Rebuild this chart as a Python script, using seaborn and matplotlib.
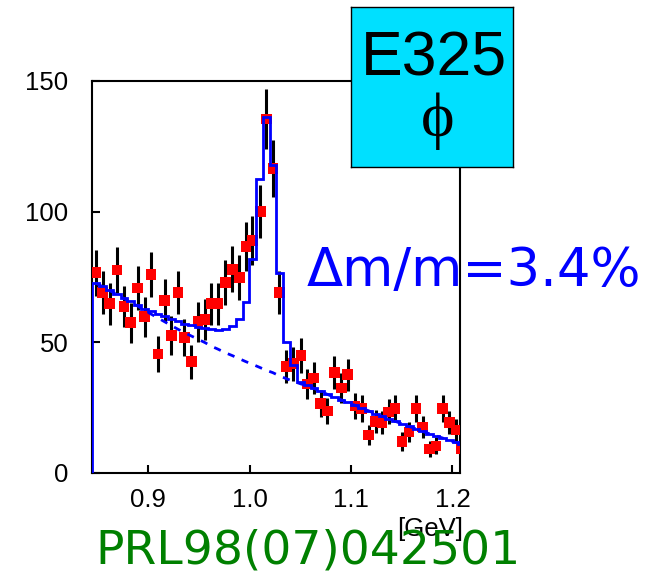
import numpy as np
import matplotlib
matplotlib.use("Agg")
import matplotlib.pyplot as plt
import seaborn as sns

# ---- data ----
mass = [0.8481, 0.8550, 0.8619, 0.8693, 0.8762, 0.8826, 0.8895, 0.8963, 0.9028, 0.9096,
        0.9160, 0.9228, 0.9293, 0.9357, 0.9426, 0.9490, 0.9559, 0.9623, 0.9687, 0.9761,
        0.9830, 0.9899, 0.9963, 1.0027, 1.0105, 1.0164, 1.0228, 1.0292, 1.0361, 1.0430,
        1.0504, 1.0568, 1.0632, 1.0701, 1.0765, 1.0834, 1.0903, 1.0967, 1.1040, 1.1104,
        1.1173, 1.1242, 1.1306, 1.1370, 1.1434, 1.1503, 1.1572, 1.1641, 1.1705, 1.1774,
        1.1838, 1.1902, 1.1970, 1.2034, 1.2083]

counts = [76.7, 69.0, 64.8, 77.7, 63.7, 57.5, 70.8, 59.8, 75.9, 45.6,
          66.0, 52.6, 69.0, 51.8, 42.6, 57.9, 58.7, 64.8, 64.8, 72.9,
          77.9, 74.8, 86.7, 89.0, 100.1, 135.4, 116.6, 69.0, 40.7, 41.8,
          44.9, 34.1, 36.4, 26.5, 23.8, 38.4, 32.6, 37.6, 25.7, 24.7,
          14.6, 19.6, 19.2, 23.4, 24.7, 12.1, 15.7, 24.7, 17.6, 9.2,
          10.4, 24.7, 19.4, 16.5, 9.2]

errors = [8.8, 8.3, 8.0, 8.8, 8.0, 7.6, 8.4, 7.7, 8.7, 6.8,
          8.1, 7.3, 8.3, 7.2, 6.5, 7.6, 7.7, 8.0, 8.0, 8.5,
          8.8, 8.7, 9.3, 9.4, 10.0, 11.6, 10.8, 8.3, 6.4, 6.5,
          6.7, 5.8, 6.0, 5.2, 4.9, 6.2, 5.7, 6.1, 5.1, 5.0,
          3.8, 4.4, 4.4, 4.8, 5.0, 3.5, 4.0, 5.0, 4.2, 3.0,
          3.2, 5.0, 4.4, 4.1, 3.0]

fit_bkg = [72.7, 71.3, 69.8, 68.3, 66.7, 65.4, 63.9, 62.3, 60.8, 59.3,
           57.9, 56.4, 55.0, 53.7, 52.4, 51.2, 49.9, 48.5, 47.4, 46.0,
           44.9, 43.7, 42.6, 41.6, 40.3, 39.3, 38.4, 37.2, 36.1, 35.1,
           34.1, 33.4, 32.4, 31.3, 30.1, 29.0, 28.0, 27.0, 25.9, 24.9,
           23.8, 22.6, 21.7, 20.7, 19.8, 18.8, 17.8, 16.9, 15.9, 15.0,
           14.2, 13.4, 12.5, 11.7, 11.1]

fit_total = [72.7, 71.5, 70.2, 68.5, 67.0, 66.0, 64.3, 62.8, 61.8, 61.0,
             60.1, 59.0, 58.0, 57.2, 56.6, 56.0, 55.3, 55.0, 54.9, 55.0,
             56.3, 59.1, 65.3, 82.0, 112.5, 136.3, 117.8, 76.4, 50.2, 41.3,
             35.0, 33.6, 32.5, 31.4, 30.2, 29.1, 28.1, 27.1, 26.0, 25.0,
             23.9, 22.7, 21.8, 20.8, 19.9, 18.9, 17.9, 17.0, 16.0, 15.1,
             14.3, 13.5, 12.6, 11.8, 11.2]

xticks = [0.9, 1.0, 1.1, 1.2]
xticklabels = ["0.9", "1.0", "1.1", "1.2"]
yticks = [0, 50, 100, 150]
yticklabels = ["0", "50", "100", "150"]

# ---- style ----
sns.set_style("ticks")
plt.rcParams['font.family'] = ['Liberation Sans', 'DejaVu Sans']

fig = plt.figure(figsize=(6.56, 5.74), dpi=100)
ax = fig.add_axes([92 / 656, 1 - 473 / 574, 368 / 656, 392 / 574])

m = np.array(mass)
mids = (m[:-1] + m[1:]) / 2
edges = np.concatenate([[m[0] - (m[1] - m[0]) / 2], mids, [m[-1] + (m[-1] - m[-2]) / 2]])

ax.errorbar(mass, counts, yerr=errors, fmt='none', ecolor='black',
            elinewidth=2.2, capsize=0, zorder=2)
sns.scatterplot(x=mass, y=counts, marker='s', s=58, color='red',
                edgecolor='none', linewidth=0, ax=ax, zorder=3, legend=False)
sns.lineplot(x=mass, y=fit_bkg, color='blue', lw=2.0,
             linestyle=(0, (2.6, 2.8)), ax=ax, zorder=4, legend=False)
ax.stairs(fit_total, edges, baseline=0, color='blue', lw=2.0, zorder=5)

ax.set_xlim(0.8445, 1.2074)
ax.set_ylim(0, 150)
ax.set_xticks(xticks)
ax.set_xticklabels(xticklabels)
ax.set_yticks(yticks)
ax.set_yticklabels(yticklabels)
ax.tick_params(axis='both', direction='in', length=6, width=1.5,
               labelsize=18.5, color='black', labelcolor='black')
ax.tick_params(axis='x', pad=11)
ax.tick_params(axis='y', pad=17)
for sp in ax.spines.values():
    sp.set_visible(True)
    sp.set_linewidth(1.5)
    sp.set_color('black')
ax.set_xlabel("")
ax.set_ylabel("")

# ---- annotations ----
fig.text(397 / 656, 1 - 536 / 574, "[GeV]", fontsize=18.5, color='black',
         ha='left', va='baseline', family=['Liberation Sans', 'DejaVu Sans'])
fig.text(95 / 656, 1 - 564 / 574, "PRL98(07)042501", fontsize=34, color='#008000',
         ha='left', va='baseline', family=['DejaVu Sans'])
fig.text(307 / 656, 1 - 286 / 574, "Δm/m=3.4%", fontsize=38, color='#0000FF',
         ha='left', va='baseline', family=['DejaVu Sans'])

box = fig.add_axes([351 / 656, 1 - 167 / 574, 162 / 656, 160 / 574])
box.set_facecolor('#00E0FF')
box.set_xticks([])
box.set_yticks([])
for sp in box.spines.values():
    sp.set_visible(True)
    sp.set_linewidth(1.0)
    sp.set_color('black')
box.text(0.509, 0.575, "E325", transform=box.transAxes, fontsize=45,
         ha='center', va='baseline', color='black',
         family=['Liberation Sans', 'DejaVu Sans'])
box.text(0.534, 0.29, "ϕ", transform=box.transAxes, fontsize=46,
         ha='center', va='center', color='black',
         family=['Liberation Serif', 'DejaVu Serif'])

fig.savefig("out.png", dpi=100)
